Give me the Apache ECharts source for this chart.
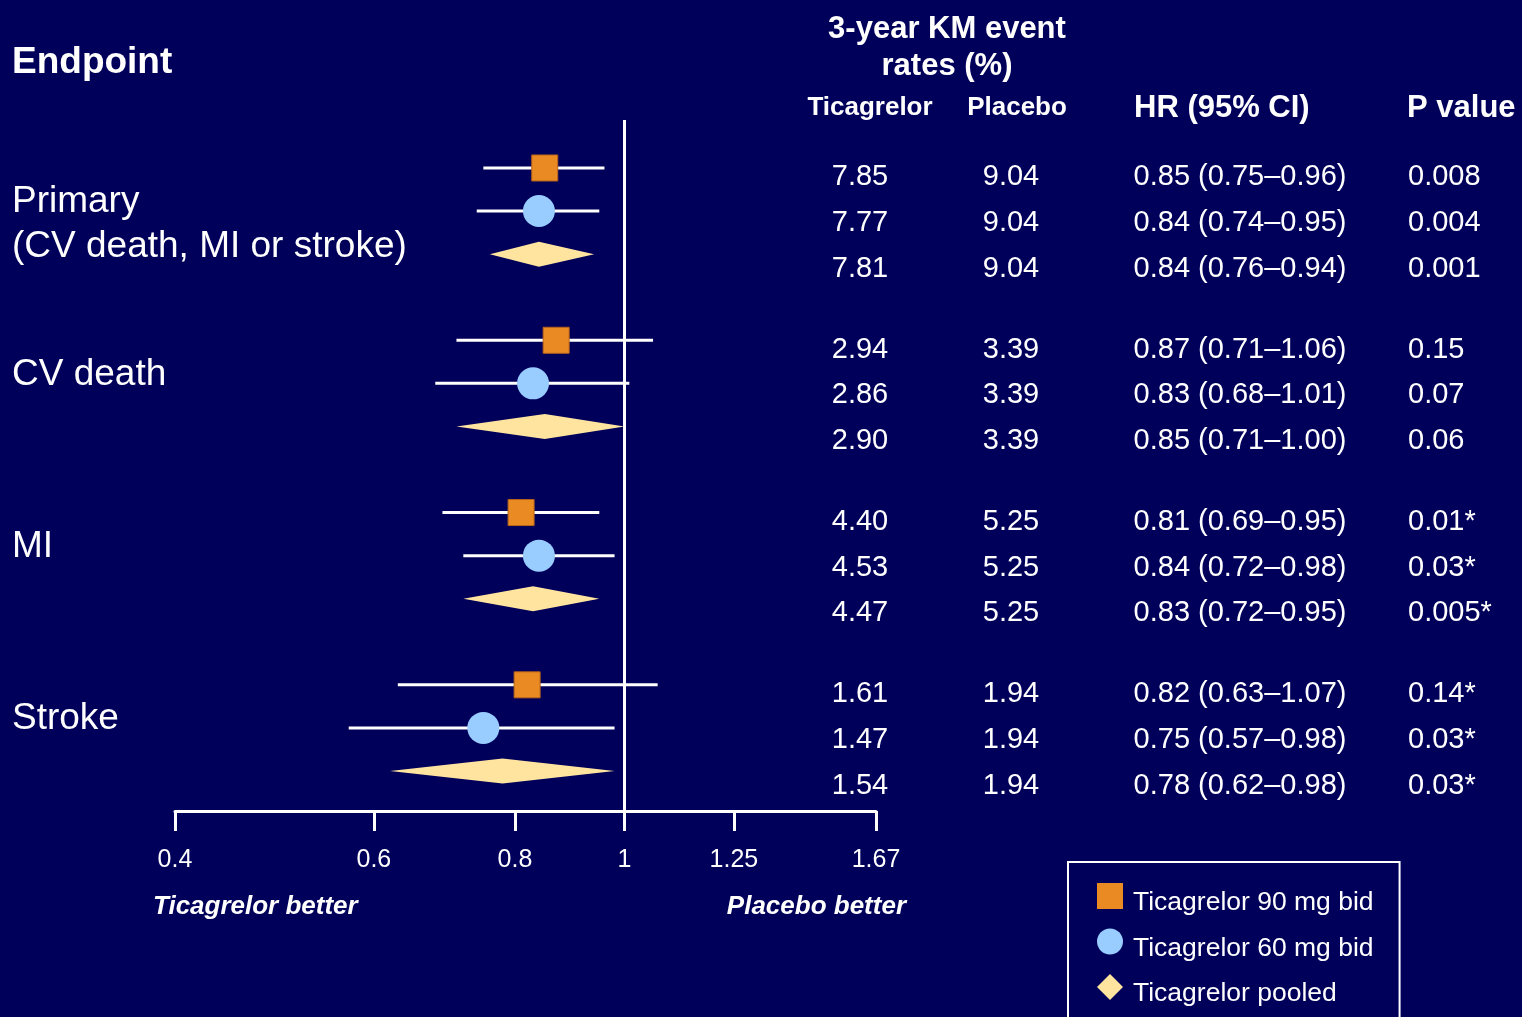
<!DOCTYPE html>
<html>
<head>
<meta charset="utf-8">
<title>Ticagrelor forest plot</title>
<script src="https://cdn.jsdelivr.net/npm/echarts@6/dist/echarts.min.js"></script>
<style>
  html, body { margin: 0; padding: 0; background: #00005A; }
  #chart { width: 1522px; height: 1017px; }
</style>
</head>
<body>
<div id="chart"></div>
<script>
// ---- Data ----
const endpoints = ['Primary\n(CV death, MI or stroke)', 'CV death', 'MI', 'Stroke'];

// Hazard ratios with 95% CI
const hr90 = [0.85, 0.87, 0.81, 0.82];
const lo90 = [0.75, 0.71, 0.69, 0.63];
const hi90 = [0.96, 1.06, 0.95, 1.07];

const hr60 = [0.84, 0.83, 0.84, 0.75];
const lo60 = [0.74, 0.68, 0.72, 0.57];
const hi60 = [0.95, 1.01, 0.98, 0.98];

const hrPooled = [0.84, 0.85, 0.83, 0.78];
const loPooled = [0.76, 0.71, 0.72, 0.62];
const hiPooled = [0.94, 1.00, 0.95, 0.98];

// 3-year KM event rates (%)
const km90 = ['7.85', '2.94', '4.40', '1.61'];
const km60 = ['7.77', '2.86', '4.53', '1.47'];
const kmPooled = ['7.81', '2.90', '4.47', '1.54'];
const kmPlacebo = ['9.04', '3.39', '5.25', '1.94'];

// P values
const p90 = ['0.008', '0.15', '0.01*', '0.14*'];
const p60 = ['0.004', '0.07', '0.03*', '0.03*'];
const pPooled = ['0.001', '0.06', '0.005*', '0.03*'];

// HR axis ticks
const tickValues = [0.4, 0.6, 0.8, 1, 1.25, 1.67];
const tickLabels = ['0.4', '0.6', '0.8', '1', '1.25', '1.67'];

const seriesNames = ['Ticagrelor 90 mg bid', 'Ticagrelor 60 mg bid', 'Ticagrelor pooled'];

// ---- Layout / style ----
const FONT = '"Liberation Sans", Arial, Helvetica, sans-serif';
const WHITE = '#FFFFFF';
const ORANGE = '#E98B22';
const BLUE = '#99CCFF';
const CREAM = '#FFE4A0';
const ROWS_PER_GROUP = 4;           // three arms + one spacer row
const col = { tic: 860, placebo: 1011, hr: 1240, p: 1408 };

const ln = Math.log;
const fmt = v => v.toFixed(2);

const arms = [
  { hr: hr90, lo: lo90, hi: hi90, km: km90, p: p90 },
  { hr: hr60, lo: lo60, hi: hi60, km: km60, p: p60 },
  { hr: hrPooled, lo: loPooled, hi: hiPooled, km: kmPooled, p: pPooled }
];
arms.forEach((a, i) => {
  a.data = a.hr.map((v, g) => [ln(v), g * ROWS_PER_GROUP + i, ln(a.lo[g]), ln(a.hi[g])]);
});

function forestItem(shape, color) {
  return function (params, api) {
    const row = api.value(1);
    const c = api.coord([api.value(0), row]);
    const pLo = api.coord([api.value(2), row]);
    const pHi = api.coord([api.value(3), row]);
    const children = [];
    if (shape === 'diamond') {
      const h = 12.5;
      children.push({
        type: 'polygon',
        shape: { points: [[pLo[0], c[1]], [c[0], c[1] - h], [pHi[0], c[1]], [c[0], c[1] + h]] },
        style: { fill: color }
      });
    } else {
      children.push({
        type: 'line',
        shape: { x1: pLo[0], y1: c[1], x2: pHi[0], y2: c[1] },
        style: { stroke: WHITE, lineWidth: 3 }
      });
      if (shape === 'rect') {
        children.push({
          type: 'rect',
          shape: { x: c[0] - 13, y: c[1] - 13, width: 26, height: 26 },
          style: { fill: color, stroke: '#B8641A', lineWidth: 1 }
        });
      } else {
        children.push({
          type: 'circle',
          shape: { cx: c[0], cy: c[1], r: 16 },
          style: { fill: color }
        });
      }
    }
    return { type: 'group', children };
  };
}

// table rows: one item per arm row
const tableData = [];
endpoints.forEach((_, g) => {
  arms.forEach((a, i) => tableData.push({ value: [0, g * ROWS_PER_GROUP + i], g, i }));
});

function tableItem(params, api) {
  const item = tableData[params.dataIndex];
  const a = arms[item.i];
  const g = item.g;
  // table lines are set slightly more loosely than the plot rows
  const y = api.coord([0, api.value(1)])[1] + 9.5 + 2.6 * item.i;
  const font = '29px ' + FONT;
  const t = (text, x, align) => ({
    type: 'text',
    style: { text, x, y, fill: WHITE, font, align, verticalAlign: 'middle' }
  });
  return {
    type: 'group',
    children: [
      t(a.km[g], col.tic, 'center'),
      t(kmPlacebo[g], col.placebo, 'center'),
      t(fmt(a.hr[g]) + ' (' + fmt(a.lo[g]) + '\u2013' + fmt(a.hi[g]) + ')', col.hr, 'center'),
      t(a.p[g], col.p, 'left')
    ]
  };
}

const groupData = endpoints.map((_, g) => [0, g * ROWS_PER_GROUP + 1]);
function groupItem(params, api) {
  const y = api.coord([0, api.value(1)])[1];
  return {
    type: 'text',
    style: {
      text: endpoints[params.dataIndex],
      x: 12, y: y - 31.5,
      fill: WHITE, font: '37px ' + FONT,
      lineHeight: 45, align: 'left', verticalAlign: 'top'
    }
  };
}

const chart = echarts.init(document.getElementById('chart'), null, { renderer: 'canvas' });

const option = {
  backgroundColor: '#00005A',
  animation: false,
  grid: { left: 175, right: 646, top: 120, bottom: 206 },
  xAxis: {
    type: 'value',
    min: ln(0.4),
    max: ln(1.67),
    splitLine: { show: false },
    axisLine: { show: true, onZero: false, lineStyle: { color: WHITE, width: 3 } },
    axisTick: {
      show: true,
      customValues: tickValues.map(ln),
      length: 20,
      lineStyle: { color: WHITE, width: 3 }
    },
    axisLabel: {
      customValues: tickValues.map(ln),
      showMinLabel: true,
      showMaxLabel: true,
      color: WHITE,
      fontSize: 25,
      fontFamily: FONT,
      margin: 37,
      formatter: v => {
        let best = 0;
        tickValues.forEach((t, k) => {
          if (Math.abs(ln(t) - v) < Math.abs(ln(tickValues[best]) - v)) best = k;
        });
        return tickLabels[best];
      }
    }
  },
  yAxis: {
    type: 'value',
    inverse: true,
    min: -1.114,
    max: 14.929,
    show: false
  },
  legend: {
    orient: 'vertical',
    left: 1068,
    top: 862,
    height: 400,
    itemWidth: 26,
    itemHeight: 26,
    itemGap: 12,
    padding: [21, 26, 40, 29],
    borderColor: WHITE,
    borderWidth: 2,
    selectedMode: false,
    formatter: '{t|{name}}',
    textStyle: {
      color: WHITE, fontSize: 26.5, fontFamily: FONT,
      rich: { t: { color: WHITE, fontSize: 26.5, fontFamily: FONT, padding: [14, 0, 0, 5] } }
    },
    data: [
      { name: seriesNames[0], icon: 'rect' },
      { name: seriesNames[1], icon: 'circle' },
      { name: seriesNames[2], icon: 'diamond' }
    ]
  },
  series: [
    {
      name: seriesNames[0],
      type: 'custom',
      clip: false,
      itemStyle: { color: ORANGE },
      renderItem: forestItem('rect', ORANGE),
      encode: { x: [0, 2, 3], y: 1 },
      data: arms[0].data,
      markLine: {
        silent: true,
        symbol: ['none', 'none'],
        label: { show: false },
        lineStyle: { color: WHITE, width: 3, type: 'solid' },
        data: [{ xAxis: 0 }]
      }
    },
    {
      name: seriesNames[1],
      type: 'custom',
      clip: false,
      itemStyle: { color: BLUE },
      renderItem: forestItem('circle', BLUE),
      encode: { x: [0, 2, 3], y: 1 },
      data: arms[1].data
    },
    {
      name: seriesNames[2],
      type: 'custom',
      clip: false,
      itemStyle: { color: CREAM },
      renderItem: forestItem('diamond', CREAM),
      encode: { x: [0, 2, 3], y: 1 },
      data: arms[2].data
    },
    {
      name: 'table',
      type: 'custom',
      clip: false,
      silent: true,
      renderItem: tableItem,
      data: tableData.map(d => d.value)
    },
    {
      name: 'endpoints',
      type: 'custom',
      clip: false,
      silent: true,
      renderItem: groupItem,
      data: groupData
    }
  ],
  graphic: [
    { type: 'text', x: 12, y: 63, style: { text: 'Endpoint', fill: WHITE, font: 'bold 37px ' + FONT, align: 'left', verticalAlign: 'middle' } },
    { type: 'text', x: 947, y: 29, style: { text: '3-year KM event', fill: WHITE, font: 'bold 31px ' + FONT, align: 'center', verticalAlign: 'middle' } },
    { type: 'text', x: 947, y: 66, style: { text: 'rates (%)', fill: WHITE, font: 'bold 31px ' + FONT, align: 'center', verticalAlign: 'middle' } },
    { type: 'text', x: 870, y: 108, style: { text: 'Ticagrelor', fill: WHITE, font: 'bold 26px ' + FONT, align: 'center', verticalAlign: 'middle' } },
    { type: 'text', x: 1017, y: 108, style: { text: 'Placebo', fill: WHITE, font: 'bold 26px ' + FONT, align: 'center', verticalAlign: 'middle' } },
    { type: 'text', x: 1134, y: 108, style: { text: 'HR (95% CI)', fill: WHITE, font: 'bold 31px ' + FONT, align: 'left', verticalAlign: 'middle' } },
    { type: 'text', x: 1407, y: 108, style: { text: 'P value', fill: WHITE, font: 'bold 31px ' + FONT, align: 'left', verticalAlign: 'middle' } },
    { type: 'text', x: 153, y: 907, style: { text: 'Ticagrelor better', fill: WHITE, font: 'italic bold 26px ' + FONT, align: 'left', verticalAlign: 'middle' } },
    { type: 'text', x: 906, y: 907, style: { text: 'Placebo better', fill: WHITE, font: 'italic bold 26px ' + FONT, align: 'right', verticalAlign: 'middle' } }
  ]
};

chart.setOption(option);
</script>
</body>
</html>
